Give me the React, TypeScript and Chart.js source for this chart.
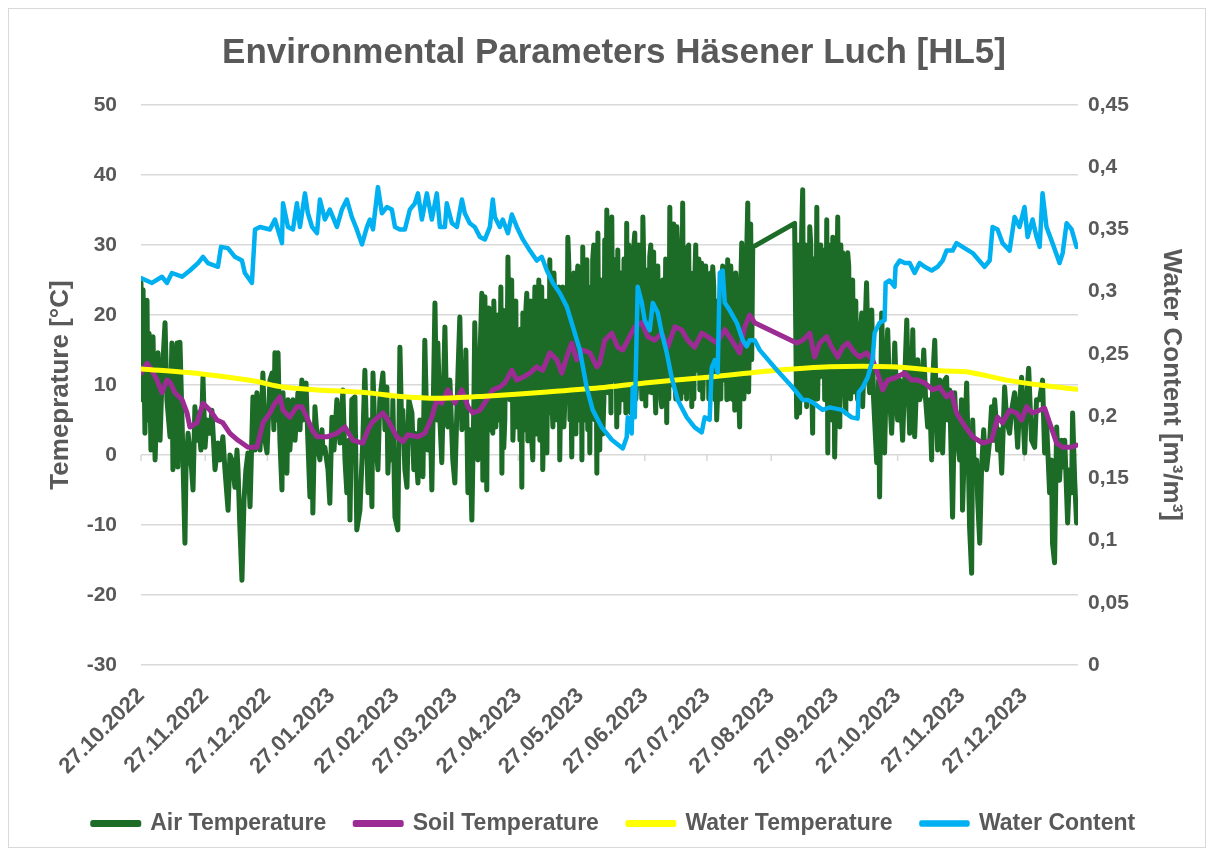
import { useEffect, useRef } from "react";
import { Chart, registerables } from "chart.js";

Chart.register(...registerables);

// x values are days since 27.10.2022
const tickDays = [0, 31, 61, 92, 123, 151, 182, 212, 243, 273, 304, 335, 365, 396, 426];
const tickLabels = [
  "27.10.2022", "27.11.2022", "27.12.2022", "27.01.2023", "27.02.2023", "27.03.2023",
  "27.04.2023", "27.05.2023", "27.06.2023", "27.07.2023", "27.08.2023", "27.09.2023",
  "27.10.2023", "27.11.2023", "27.12.2023",
];
const lastDay = 452;

const seriesNames = ["Air Temperature", "Soil Temperature", "Water Temperature", "Water Content"];

const airTemperature: [number, number][] = [
  [0,24.6],[0.5,7.9],[1.0,23.6],[1.9,3.1],[2.9,22.1],[3.4,5.0],[3.9,17.4],[4.8,0.7],[5.8,16.9],[6.8,-0.7],[7.7,7.9],[8.2,14.6],[9.2,2.1],[10.1,10.7],[11.6,18.9],[12.5,7.9],[14.0,2.6],[14.9,16.0],[15.4,-2.1],[16.4,9.3],[17.4,16.0],[17.8,-1.7],[18.8,16.1],[19.8,5.0],[21.2,-12.6],[21.7,-2.1],[22.7,3.1],[24.1,-0.7],[25.1,-5.0],[26.0,6.9],[27.0,2.1],[27.5,6.0],[28.9,0.7],[29.9,11.1],[30.9,1.1],[31.8,5.0],[33.3,3.1],[34.2,6.4],[35.7,-2.1],[37.1,1.7],[38.1,-0.7],[39.5,2.6],[40.5,-2.1],[42.0,-7.9],[42.9,0],[43.9,-0.7],[45.3,-4.6],[46.3,0.7],[46.8,-2.1],[47.7,-10.3],[48.7,-17.9],[49.7,-6.4],[50.6,-2.1],[51.6,0.3],[52.6,-7.4],[54.0,8.3],
  [55.0,0.7],[55.9,8.9],[57.4,0.7],[58.8,11.7],[59.8,2.1],[60.8,0.3],[62.2,10.7],[63.2,11.7],[64.1,3.6],[64.6,14.6],[65.6,5.0],[66.1,14.6],[67.0,2.1],[68.0,-5.0],[68.5,8.9],[69.4,0.7],[70.4,-2.6],[70.9,7.9],[71.8,0.7],[73.3,7.9],[74.3,2.1],[75.7,8.9],[76.7,3.6],[77.6,10.7],[78.1,5.0],[79.6,10.3],[80.5,2.1],[81.5,-6.0],[82.5,3.6],[82.9,-8.3],[83.9,6.9],[85.4,0.7],[86.3,-0.7],[87.3,3.6],[87.8,0.3],[88.7,1.1],[90.2,-2.1],[91.1,-6.9],[92.1,5.4],[93.1,0.7],[94.5,7.9],[96.0,1.7],[97.4,9.3],[98.4,-0.7],[99.3,-5.4],[100.3,2.1],[100.8,-9.3],[101.7,7.9],[103.2,8.3],[104.1,-10.7],[105.6,-7.9],[107.0,2.1],[108.0,12.1],[109.5,-5.4],
  [110.4,5.0],[111.4,-7.4],[111.9,11.7],[112.8,3.6],[114.3,-2.1],[115.2,7.9],[116.7,11.7],[117.7,3.6],[118.6,9.7],[119.1,-2.6],[120.1,5.0],[121.0,-0.7],[121.5,7.9],[122.5,-8.9],[123.9,-10.7],[124.9,15.4],[125.9,2.1],[126.3,6.4],[127.3,-2.1],[128.3,-4.6],[129.2,7.9],[130.7,6.0],[131.6,-2.1],[132.1,3.1],[133.6,-4.0],[134.5,5.0],[136.0,-3.1],[136.9,16.4],[137.9,3.6],[138.4,0.7],[139.4,7.9],[140.3,-5.0],[141.8,21.7],[142.7,5.0],[143.2,16.0],[144.2,5.0],[145.1,-1.1],[146.6,18.3],[147.5,5.0],[148.0,4.0],[149.0,10.7],[150.4,-0.7],[151.4,-4.0],[152.9,11.7],[153.8,19.7],[154.8,3.6],[156.2,6.0],[156.7,15.0],[157.7,-5.4],[158.6,3.6],[159.6,-9.3],[160.6,7.9],[161.0,18.9],[162.0,5.0],[162.5,-0.7],[163.5,13.6],[164.4,23.1],[164.9,-3.6],
  [165.9,22.6],[166.8,-5.0],[167.3,19.3],[168.3,3.6],[169.3,10.7],[169.7,3.1],[170.7,15.0],[171.7,16.9],[172.6,5.0],[173.1,10.7],[174.1,-2.6],[174.6,20.7],[175.5,5.0],[176.0,17.9],[177.0,28.3],[177.9,7.9],[178.4,19.3],[179.4,2.1],[180.3,17.9],[181.3,4.0],[182.3,15.0],[182.8,2.1],[183.7,-4.6],[184.2,20.3],[185.2,3.6],[186.1,23.1],[187.1,6.4],[187.6,16.4],[188.5,2.1],[189.0,-0.7],[190.0,24.0],[190.9,5.0],[191.4,17.9],[192.4,2.1],[193.3,24.0],[193.8,-2.1],[194.8,16.4],[195.8,0.3],[196.3,20.7],[197.2,27.9],[198.2,7.9],[198.7,4.0],[199.6,22.1],[200.6,5.0],[201.1,17.9],[202.0,-0.7],[203.0,16.4],[203.5,24.0],[204.5,7.9],[204.9,22.1],[205.9,31.1],[206.9,5.0],[207.8,-0.3],[208.3,17.9],[209.3,7.9],[210.2,24.0],[211.2,5.0],[211.7,19.3],[212.7,-0.7],[213.1,29.7],[214.1,7.9],[215.1,27.9],[215.5,3.6],[216.5,0.3],[217.0,22.1],[217.9,27.9],[218.9,5.0],[219.9,-2.6],[220.4,31.7],[221.3,0.7],
  [222.3,17.9],[223.3,7.9],[223.7,30.7],[224.7,35.0],[225.2,8.9],[226.2,22.1],[227.1,34.0],[228.1,10.7],[228.6,27.9],[229.5,4.0],[230.0,29.3],[231.0,10.7],[232.0,23.6],[232.4,7.9],[233.4,22.1],[234.3,33.1],[234.8,8.9],[235.8,25.0],[236.7,12.1],[237.2,27.9],[238.2,31.7],[239.2,10.7],[239.6,12.6],[240.6,23.6],[241.1,15.0],[242.1,34.0],[243.0,13.6],[244.0,26.4],[244.5,10.7],[245.4,28.3],[246.4,8.9],[246.9,20.7],[247.8,10.7],[248.8,25.4],[249.8,10.7],[250.3,22.1],[251.2,6.9],[252.2,19.3],[252.7,12.1],[253.6,4.6],[254.1,25.0],[255.1,35.4],[256.0,10.7],[256.5,29.3],[257.5,10.7],[258.5,32.6],[259.4,13.6],[259.9,22.1],[260.8,12.1],[261.3,36.0],[262.3,15.0],[262.8,23.6],[263.7,29.7],[264.7,10.7],[265.7,6.9],[266.2,22.1],[267.1,24.6],[268.1,12.1],[268.6,17.9],[269.6,9.3],[270.5,27.4],[271.5,13.6],[272.0,11.7],[272.9,22.1],[273.4,24.0],[274.4,13.6],[275.3,22.1],[275.8,26.9],[276.8,7.9],[277.7,5.0],[278.7,22.1],[279.2,15.0],[280.1,23.6],[281.1,10.7],[281.6,26.4],[282.6,7.9],[283.0,27.9],[284.0,13.6],[285.0,22.1],[285.5,7.9],[286.4,6.4],[287.4,22.1],[287.9,12.1],[288.8,4.0],[289.8,30.3],[290.3,13.6],[291.2,11.7],[292.2,29.3],[292.7,36.0],[293.6,19.3],[294.6,13.6],[295.1,29.7],[315.3,33.1],
  [316.3,5.4],[317.3,27.9],[318.2,15.0],[319.2,37.9],[320.2,17.9],[321.1,6.9],[321.6,25.0],[322.6,32.6],[323.6,9.3],[324.0,3.1],[325.0,22.1],[326.0,35.4],[326.9,17.9],[327.4,11.1],[328.4,25.0],[328.9,29.3],[329.8,7.9],[330.8,33.6],[331.3,0.3],[332.2,22.1],[332.7,27.9],[333.7,31.1],[334.6,-0.3],[335.6,22.1],[336.1,34.0],[337.1,4.0],[338.0,19.3],[338.5,28.9],[339.5,8.9],[340.4,22.1],[340.9,28.9],[341.9,11.7],[342.8,17.9],[344.3,20.3],[345.3,10.7],[345.7,7.9],[346.7,16.4],[347.7,20.3],[348.1,6.9],[349.1,16.4],[350.0,24.6],[351.0,10.7],[351.5,8.9],[352.5,20.7],[353.4,7.9],[354.9,-1.1],[355.8,10.7],[356.3,-6.0],[357.3,20.3],[358.3,7.9],[358.7,0.3],[359.7,13.6],[360.2,17.9],[361.2,7.9],[362.1,3.1],[363.1,10.7],[363.6,16.0],[364.5,7.9],[365.0,5.0],[366.0,10.7],[367.4,2.1],[368.4,10.7],[369.4,19.3],[370.3,7.9],[370.8,3.1],[371.8,10.7],[372.3,17.9],[373.2,2.6],[374.2,10.7],[374.7,13.6],[375.6,7.9],[376.6,8.9],[377.6,15.0],[378.5,7.9],[379.5,4.0],[380.5,7.9],[381.4,-0.7],[381.9,10.7],[382.9,16.4],[383.8,5.0],[384.3,0.7],[385.3,10.7],[385.8,9.7],[386.7,0.3],
  [387.7,10.7],[388.6,11.1],[389.1,5.0],[390.1,9.3],[391.5,-8.9],[392.5,8.9],[393.4,3.6],[394.9,-0.7],[395.8,7.9],[396.3,-7.9],[397.3,2.1],[398.3,10.3],[399.2,-2.1],[399.7,-10.3],[400.7,-16.9],[401.2,5.0],[402.1,-3.6],[403.1,-0.7],[403.6,-6.4],[404.6,-12.6],[405.5,-1.7],[406.5,3.6],[407.0,0.7],[407.9,-2.1],[409.4,2.1],[410.3,6.9],[411.3,2.1],[411.8,7.9],[412.8,3.6],[413.2,0.7],[414.2,3.6],[415.2,-2.6],[416.6,9.7],[417.6,5.0],[419.0,3.1],[420.0,6.4],[421.4,8.9],[422.4,3.6],[422.9,1.1],[423.9,7.9],[424.8,11.1],[425.8,3.6],[426.3,0.3],[427.2,7.9],[428.2,12.4],[429.2,5.0],[429.6,2.1],[431.1,1.1],[432.0,7.9],[433.5,7.9],[434.9,10.7],[435.9,0.3],[436.8,5.0],[438.3,-5.4],[439.2,-0.7],[439.7,-12.6],[440.7,-15.4],[441.7,4.0],[442.6,-2.1],[443.1,-3.6],[444.1,2.1],[444.6,-1.7],[445.6,2.1],[447.0,-9.7],[448.0,-2.1],[448.9,-5.4],[449.4,6.0],[450.4,-3.6],[451.3,-9.7],
];

// additional readings in the dense spring/summer band
const airTemperatureSummerDetail: [number, number][] = [
  [165.4,8.0],[167.8,21.0],[168.8,6.0],[170.2,22.0],[171.2,4.0],[172.2,20.0],[173.6,24.0],[175.0,1.0],[176.5,9.0],[178.8,25.0],[179.8,6.0],[180.8,22.0],[181.8,6.0],[183.2,18.0],[184.7,7.0],[185.7,21.0],[186.6,2.0],[188.0,22.0],[189.5,12.0],[190.5,3.0],[191.9,25.0],[192.8,8.0],[194.3,6.0],[195.3,22.0],[196.8,6.0],[197.7,10.0],[199.2,26.0],[200.1,9.0],[201.6,24.0],[202.5,10.0],[204.0,4.0],[205.4,9.0],[206.4,27.0],[207.3,12.0],[208.8,26.0],[209.8,3.0],[210.7,27.0],[212.2,25.0],[213.6,5.0],[214.6,25.0],[216.0,24.0],[217.5,6.0],[218.4,30.0],[219.4,24.0],[220.9,8.0],[221.8,25.0],
  [222.8,3.0],[224.2,12.0],[225.7,30.0],[226.7,6.0],[227.6,12.0],[229.0,26.0],[230.5,6.0],[231.5,26.0],[233.0,28.0],[233.9,6.0],[235.3,30.0],[236.2,6.0],[238.7,8.0],[240.1,30.0],[241.6,8.0],[242.6,26.0],[243.5,7.0],[245.0,9.0],[245.9,30.0],[247.3,29.0],[248.3,6.0],[249.3,27.0],[250.8,8.0],[251.7,25.0],[253.1,28.0],[254.6,8.0],[255.6,10.0],[257.0,33.0],[258.0,8.0],[258.9,30.0],[260.4,8.0],[261.8,9.0],[263.2,8.0],[264.2,30.0],[265.2,26.0],[266.7,8.0],[267.6,30.0],[269.1,28.0],[270.0,12.0],[271.0,8.0],[272.4,27.0],[273.9,8.0],[274.8,26.0],[276.3,24.0],[277.2,22.0],[278.2,9.0],[279.7,8.0],[280.6,27.0],[282.1,25.0],[283.5,8.0],[284.5,27.0],[286.0,25.0],[286.9,26.0],[288.3,9.0],[289.3,24.0],[290.8,8.0],[291.7,10.0],[293.1,9.0],[294.1,33.0],
  [316.8,30.0],[317.7,6.0],[318.7,32.0],[319.7,8.0],[320.6,30.0],[322.1,8.0],[323.1,30.0],[324.5,28.0],[325.5,8.0],[326.4,8.0],[327.9,30.0],[329.3,28.0],[330.3,9.0],[331.8,30.0],[333.2,5.0],[334.1,27.0],[335.1,8.0],[336.6,10.0],[337.6,30.0],[339.0,26.0],[340.0,6.0],[341.4,27.0],[342.3,8.0],[343.3,25.0],[343.8,9.0],[344.8,22.0],
];

const soilTemperature: [number, number][] = [
  [0,11.7],[2.9,13.1],[5.3,12.1],[7.7,10.7],[10.1,8.9],[12.5,10.7],[14.0,10.4],[16.4,8.9],[19.8,7.9],[22.2,6.0],[23.6,4.0],[27.0,4.6],[29.9,7.4],[33.3,6.4],[36.6,5.0],[39.5,4.6],[42.9,3.1],[46.8,2.1],[51.6,1.1],[55.9,1.1],[58.8,4.6],[62.2,6.0],[64.6,7.4],[67.0,8.3],[68.5,6.4],[71.8,5.4],[75.2,6.9],[77.6,6.9],[80.0,5.4],[82.5,3.6],[84.9,2.6],[89.7,2.6],[94.5,3.1],[98.4,4.0],[102.2,2.1],[107.0,1.7],[109.5,3.6],[111.4,4.6],[114.3,5.4],[116.7,6.0],[119.1,5.0],[123.4,2.6],[126.3,1.9],[128.7,2.9],[133.6,2.6],[136.9,3.1],[140.3,5.4],[142.7,7.9],[145.1,7.4],[148.0,9.3],[151.4,7.4],[154.8,9.3],[157.7,6.9],[160.1,6.0],[163.5,6.4],[166.8,7.9],[169.7,9.3],[173.1,9.7],[175.5,10.3],[178.9,12.1],[181.3,10.7],[184.2,11.1],[187.6,11.7],[190.9,12.6],[193.8,12.1],[197.2,14.6],[200.6,13.6],[203.0,11.7],[205.4,14.0],[207.8,16.0],[210.2,13.6],[213.1,15.0],[216.5,14.6],[219.9,12.6],[221.3,13.1],[223.7,16.4],[227.1,17.4],[230.0,15.4],[232.4,15.0],[234.8,16.4],[238.2,18.3],[241.6,18.9],[244.5,16.9],[247.8,16.4],[251.2,17.4],[254.1,15.4],[257.5,18.3],[260.8,17.9],[263.7,16.4],[267.1,15.4],[270.5,17.4],[273.4,16.9],[277.7,16.0],[281.6,17.9],[284.9,16.4],[288.8,14.6],[291.2,18.3],[293.6,20.0],[296.0,18.9],[316.3,16.0],[319.2,16.4],[322.6,17.4],[325.0,14.0],[327.4,16.0],[330.8,16.9],[333.2,15.4],[336.1,14.0],[338.5,15.4],[340.9,16.0],[344.3,14.6],[346.7,14.0],[350.0,14.6],[352.9,13.6],[355.3,11.7],[357.8,9.3],[360.2,10.7],[363.5,11.0],[368.4,11.7],[371.7,10.7],[374.6,10.7],[378.0,10.3],[381.9,9.3],[385.2,9.7],[388.6,8.3],[391.0,8.9],[393.4,6.0],[396.3,4.6],[401.2,2.6],[406.0,1.7],[410.3,2.1],[413.2,5.4],[415.6,4.6],[419.0,6.4],[422.4,6.0],[424.8,5.0],[427.2,6.9],[430.1,6.0],[433.5,6.4],[435.9,6.7],[438.3,4.6],[441.7,1.7],[444.6,1.1],[448.9,1.1],[451.3,1.4],
];

const waterTemperature: [number, number][] = [
  [0,12.3],[28.4,11.6],[54,10.6],[68.5,9.7],[84.9,9.3],[109,8.9],[123.9,8.4],[143.2,8.1],[165.9,8.4],[195.8,9.0],[221.3,9.6],[243,10.3],[273.4,11.1],[306.7,12.1],[332.2,12.6],[362.1,12.6],[387.7,12.0],[398.3,11.9],[417.5,10.7],[433.5,10.0],[451.3,9.4],
];

const waterContent: [number, number][] = [
  [0,0.311],[5.3,0.307],[10.1,0.312],[12.5,0.307],[14.9,0.315],[19.8,0.312],[23.6,0.317],[27.5,0.323],[29.9,0.328],[32.3,0.323],[37.1,0.320],[38.6,0.336],[41.9,0.335],[45.3,0.328],[48.7,0.325],[50.1,0.315],[53.5,0.307],[55.0,0.350],[57.4,0.352],[62.2,0.350],[64.6,0.358],[68.0,0.339],[68.5,0.371],[70.9,0.352],[73.3,0.350],[75.2,0.371],[76.7,0.352],[79.1,0.379],[80.5,0.363],[82.5,0.352],[84.9,0.347],[86.3,0.374],[88.7,0.358],[91.1,0.366],[94.5,0.352],[96.9,0.366],[99.3,0.374],[101.7,0.360],[104.1,0.350],[106.6,0.338],[109.0,0.352],[110.4,0.358],[111.9,0.350],[114.3,0.384],[116.2,0.363],[118.6,0.368],[121.0,0.366],[122.5,0.352],[124.9,0.350],[127.3,0.350],[129.7,0.366],[132.1,0.371],[133.6,0.379],[135.5,0.358],[137.9,0.379],[140.3,0.358],[142.7,0.379],[144.2,0.352],[146.6,0.352],[147.5,0.371],[150.0,0.355],[152.4,0.352],[154.8,0.374],[156.2,0.363],[158.6,0.355],[161.0,0.352],[163.5,0.344],[165.9,0.342],[168.3,0.352],[169.7,0.374],[170.7,0.360],[173.1,0.352],[174.5,0.358],[177.0,0.347],[178.9,0.362],[181.3,0.352],[184.2,0.342],[187.6,0.333],[190.9,0.325],[193.3,0.328],[195.8,0.317],[198.7,0.307],[202.0,0.299],[205.4,0.288],[208.3,0.272],[211.7,0.253],[215.0,0.223],[217.9,0.205],[221.3,0.194],[222.3,0.191],[227.1,0.181],[232.4,0.174],[234.3,0.183],[234.8,0.199],[236.7,0.186],[237.2,0.223],[238.2,0.199],[239.6,0.304],[241.6,0.291],[243.0,0.277],[245.4,0.269],[246.9,0.291],[249.3,0.283],[251.2,0.267],[253.6,0.251],[256.0,0.231],[258.9,0.213],[263.3,0.199],[267.1,0.191],[270.5,0.187],[271.9,0.199],[274.3,0.197],[275.3,0.239],[276.8,0.245],[278.2,0.235],[279.2,0.315],[280.6,0.317],[281.6,0.291],[284.0,0.285],[287.4,0.275],[290.3,0.261],[292.2,0.256],[293.6,0.261],[296.0,0.261],[298.5,0.253],[306.7,0.237],[314.4,0.223],[319.2,0.213],[321.6,0.213],[324.0,0.211],[328.8,0.205],[332.2,0.207],[338.0,0.205],[342.8,0.199],[345.7,0.198],[346.2,0.219],[348.1,0.223],[350.5,0.231],[352.9,0.245],[353.9,0.267],[356.3,0.275],[358.7,0.277],[359.2,0.307],[361.1,0.309],[363.5,0.304],[364.0,0.320],[366.0,0.325],[368.4,0.323],[370.8,0.323],[373.2,0.315],[375.6,0.323],[378.0,0.320],[381.4,0.317],[384.3,0.320],[386.7,0.325],[388.6,0.333],[391.5,0.333],[393.4,0.339],[396.3,0.336],[401.2,0.331],[406.9,0.320],[409.4,0.325],[410.8,0.352],[413.2,0.350],[415.6,0.339],[419.0,0.333],[421.4,0.360],[423.8,0.352],[426.2,0.368],[427.7,0.344],[430.1,0.358],[432.0,0.344],[433.5,0.336],[434.9,0.379],[436.8,0.352],[439.7,0.339],[443.1,0.323],[444.6,0.331],[446.5,0.355],[448.9,0.350],[451.3,0.336],
];

const GRAY = "#595959";
const FONT = '"Liberation Sans", Arial, sans-serif';

const toPoints = (arr: [number, number][]) => arr.map(([x, y]) => ({ x, y }));

const zeroTickPlugin = {
  id: "zeroTicks",
  beforeDatasetsDraw(chart: any) {
    const xs = chart.scales.x;
    const ys = chart.scales.y;
    const y0 = ys.getPixelForValue(0);
    const ctx = chart.ctx;
    ctx.save();
    ctx.strokeStyle = "#d9d9d9";
    ctx.lineWidth = 1.5;
    ctx.beginPath();
    for (const d of tickDays) {
      const px = xs.getPixelForValue(d);
      ctx.moveTo(px, y0);
      ctx.lineTo(px, y0 + 6);
    }
    ctx.stroke();
    ctx.restore();
  },
};

export default function App() {
  const ref = useRef<HTMLCanvasElement | null>(null);
  useEffect(() => {
    if (!ref.current) return;
    Chart.defaults.font.family = FONT;
    const airAll = [...airTemperature, ...airTemperatureSummerDetail].sort((a, b) => a[0] - b[0]);
    const mk = (label: string, data: any, color: string, yAxisID: string, order: number, width: number, tension = 0) => ({
      label,
      data,
      borderColor: color,
      backgroundColor: color,
      borderWidth: width,
      pointRadius: 0,
      pointHoverRadius: 0,
      yAxisID,
      order,
      tension,
      borderJoinStyle: "round" as const,
      borderCapStyle: "round" as const,
    });
    const chart = new Chart(ref.current, {
      type: "line",
      data: {
        datasets: [
          mk(seriesNames[0], toPoints(airAll), "#1c6b27", "y", 3, 5),
          mk(seriesNames[1], toPoints(soilTemperature), "#9c2b93", "y", 2, 5),
          mk(seriesNames[2], toPoints(waterTemperature), "#ffff00", "y", 1, 5, 0.3),
          mk(seriesNames[3], toPoints(waterContent), "#00b0f0", "y1", 0, 4.5),
        ],
      },
      options: {
        responsive: false,
        animation: false,
        devicePixelRatio: 1,
        layout: { padding: { left: 14, right: 0, top: 0, bottom: 2 } },
        plugins: {
          title: {
            display: true,
            text: "Environmental Parameters Häsener Luch [HL5]",
            color: GRAY,
            font: { size: 35, weight: "bold", family: FONT },
            padding: { top: 23, bottom: 31 },
          },
          legend: {
            position: "bottom",
            labels: {
              boxWidth: 46,
              boxHeight: 2,
              padding: 29,
              color: GRAY,
              font: { size: 23, weight: "bold", family: FONT },
              sort: (a: any, b: any) => a.datasetIndex - b.datasetIndex,
            },
          },
          tooltip: { enabled: false },
        },
        scales: {
          x: {
            type: "linear",
            min: 0,
            max: lastDay,
            grid: { display: false },
            border: { display: false },
            afterBuildTicks: (s: any) => {
              s.ticks = tickDays.map((v) => ({ value: v }));
            },
            afterFit: (s: any) => {
              s.height = 118;
            },
            ticks: {
              autoSkip: false,
              maxRotation: 45,
              minRotation: 45,
              padding: 10,
              color: GRAY,
              font: { size: 22, weight: "bold", family: FONT },
              callback: (v: any) => tickLabels[tickDays.indexOf(Number(v))] ?? "",
            },
          },
          y: {
            type: "linear",
            position: "left",
            min: -30,
            max: 50,
            grid: { color: "#d9d9d9", lineWidth: 1.5, drawTicks: false },
            border: { display: false },
            afterFit: (s: any) => {
              s.width = 118;
            },
            ticks: {
              stepSize: 10,
              padding: 24,
              color: GRAY,
              font: { size: 21, weight: "bold", family: FONT },
            },
            title: {
              display: true,
              text: "Temeprature [°C]",
              color: GRAY,
              font: { size: 26, weight: "bold", family: FONT },
              padding: { top: 22, bottom: 0 },
            },
          },
          y1: {
            type: "linear",
            position: "right",
            min: 0,
            max: 0.45,
            grid: { display: false, drawTicks: false },
            border: { display: false },
            afterFit: (s: any) => {
              s.width = 127;
            },
            ticks: {
              stepSize: 0.05,
              padding: 10,
              color: GRAY,
              font: { size: 21, weight: "bold", family: FONT },
              callback: (v: any) => String(Math.round(Number(v) * 100) / 100).replace(".", ","),
            },
            title: {
              display: true,
              text: "Water Content [m³/m³]",
              color: GRAY,
              font: { size: 26, weight: "bold", family: FONT },
              padding: { top: 18, bottom: 0 },
            },
          },
        },
      } as any,
      plugins: [zeroTickPlugin],
    });
    return () => chart.destroy();
  }, []);

  return (
    <div style={{ width: 1196, height: 838, border: "1px solid #d9d9d9", background: "#fff" }}>
      <canvas ref={ref} width={1196} height={838} style={{ display: "block" }} />
    </div>
  );
}
